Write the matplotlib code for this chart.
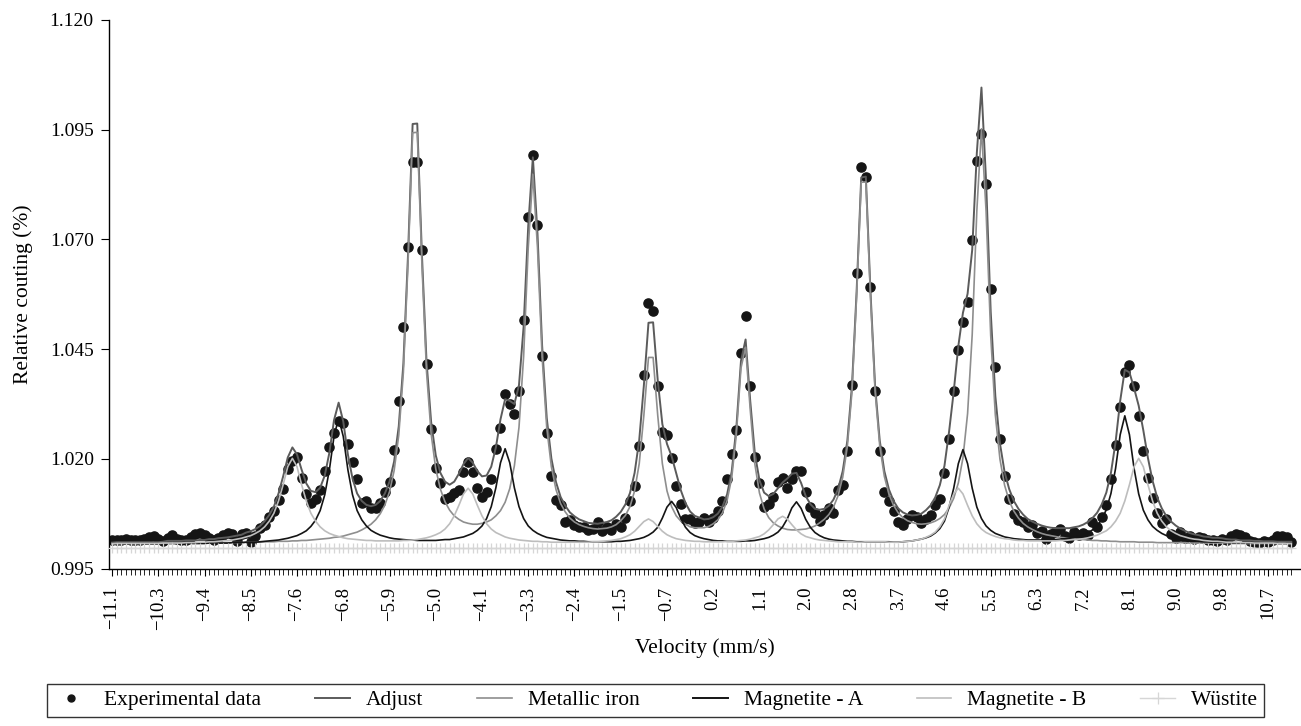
import numpy as np
import matplotlib
matplotlib.use("Agg")
import matplotlib.pyplot as plt
from matplotlib.lines import Line2D

plt.rcParams['font.family'] = ['Liberation Serif', 'DejaVu Serif']

# ---------------- data ----------------
velocity_labels = ["\u221211.1", "\u221210.3", "\u22129.4", "\u22128.5", "\u22127.6", "\u22126.8",
                   "\u22125.9", "\u22125.0", "\u22124.1", "\u22123.3", "\u22122.4", "\u22121.5",
                   "\u22120.7", "0.2", "1.1", "2.0", "2.8", "3.7", "4.6", "5.5", "6.3", "7.2",
                   "8.1", "9.0", "9.8", "10.7"]
y_ticks = [0.995, 1.020, 1.045, 1.070, 1.095, 1.120]

experimental = [
    1.0015, 1.0016, 1.0014, 1.0017, 1.0015, 1.0016, 1.0014, 1.0018, 1.0022, 1.0024, 1.0018, 1.0012, 1.0020, 1.0026, 1.0017, 1.0014,
    1.0016, 1.0022, 1.0028, 1.0030, 1.0027, 1.0019, 1.0014, 1.0019, 1.0027, 1.0031, 1.0029, 1.0012, 1.0029, 1.0030, 1.0011, 1.0023,
    1.0042, 1.0049, 1.0067, 1.0080, 1.0106, 1.0131, 1.0177, 1.0196, 1.0204, 1.0156, 1.0120, 1.0099, 1.0108, 1.0129, 1.0173, 1.0228,
    1.0259, 1.0287, 1.0282, 1.0234, 1.0192, 1.0154, 1.0100, 1.0103, 1.0087, 1.0088, 1.0099, 1.0125, 1.0148, 1.0219, 1.0331, 1.0501,
    1.0683, 1.0876, 1.0876, 1.0676, 1.0417, 1.0267, 1.0179, 1.0146, 1.0108, 1.0114, 1.0123, 1.0129, 1.0171, 1.0192, 1.0171, 1.0133,
    1.0114, 1.0125, 1.0154, 1.0222, 1.0271, 1.0348, 1.0326, 1.0303, 1.0355, 1.0516, 1.0752, 1.0892, 1.0732, 1.0435, 1.0259, 1.0160,
    1.0106, 1.0095, 1.0055, 1.0061, 1.0049, 1.0044, 1.0044, 1.0038, 1.0039, 1.0057, 1.0036, 1.0044, 1.0038, 1.0051, 1.0045, 1.0066,
    1.0103, 1.0138, 1.0230, 1.0390, 1.0556, 1.0536, 1.0367, 1.0262, 1.0255, 1.0202, 1.0138, 1.0097, 1.0062, 1.0062, 1.0053, 1.0057,
    1.0065, 1.0055, 1.0066, 1.0080, 1.0104, 1.0154, 1.0210, 1.0266, 1.0440, 1.0526, 1.0367, 1.0205, 1.0146, 1.0091, 1.0097, 1.0114,
    1.0148, 1.0156, 1.0133, 1.0154, 1.0173, 1.0173, 1.0124, 1.0090, 1.0077, 1.0059, 1.0072, 1.0087, 1.0076, 1.0128, 1.0141, 1.0217,
    1.0369, 1.0624, 1.0865, 1.0843, 1.0591, 1.0354, 1.0217, 1.0125, 1.0103, 1.0080, 1.0057, 1.0049, 1.0062, 1.0072, 1.0068, 1.0053,
    1.0064, 1.0072, 1.0095, 1.0108, 1.0167, 1.0245, 1.0354, 1.0449, 1.0512, 1.0558, 1.0698, 1.0879, 1.0940, 1.0826, 1.0588, 1.0409,
    1.0245, 1.0161, 1.0108, 1.0074, 1.0061, 1.0055, 1.0045, 1.0049, 1.0030, 1.0036, 1.0017, 1.0028, 1.0034, 1.0039, 1.0023, 1.0019,
    1.0034, 1.0026, 1.0030, 1.0026, 1.0055, 1.0045, 1.0068, 1.0095, 1.0154, 1.0232, 1.0318, 1.0398, 1.0413, 1.0365, 1.0297, 1.0218,
    1.0156, 1.0110, 1.0076, 1.0053, 1.0062, 1.0028, 1.0019, 1.0034, 1.0019, 1.0024, 1.0017, 1.0022, 1.0019, 1.0015, 1.0016, 1.0013,
    1.0017, 1.0014, 1.0024, 1.0028, 1.0026, 1.0022, 1.0012, 1.0011, 1.0009, 1.0013, 1.0010, 1.0016, 1.0023, 1.0024, 1.0021, 1.0011,
]

adjust = [
    1.0009, 1.0010, 1.0010, 1.0010, 1.0010, 1.0010, 1.0010, 1.0010, 1.0010, 1.0010, 1.0010, 1.0011, 1.0013, 1.0013, 1.0013, 1.0013,
    1.0014, 1.0014, 1.0014, 1.0015, 1.0015, 1.0017, 1.0017, 1.0019, 1.0020, 1.0021, 1.0023, 1.0025, 1.0027, 1.0032, 1.0035, 1.0040,
    1.0047, 1.0058, 1.0072, 1.0091, 1.0121, 1.0160, 1.0203, 1.0226, 1.0210, 1.0175, 1.0144, 1.0127, 1.0124, 1.0134, 1.0162, 1.0214,
    1.0288, 1.0328, 1.0285, 1.0210, 1.0155, 1.0121, 1.0104, 1.0095, 1.0092, 1.0095, 1.0104, 1.0121, 1.0148, 1.0194, 1.0274, 1.0417,
    1.0664, 1.0963, 1.0964, 1.0668, 1.0423, 1.0284, 1.0208, 1.0168, 1.0148, 1.0141, 1.0148, 1.0166, 1.0188, 1.0202, 1.0191, 1.0172,
    1.0160, 1.0162, 1.0182, 1.0226, 1.0290, 1.0336, 1.0332, 1.0325, 1.0368, 1.0501, 1.0731, 1.0887, 1.0713, 1.0458, 1.0293, 1.0201,
    1.0147, 1.0113, 1.0093, 1.0078, 1.0069, 1.0062, 1.0058, 1.0054, 1.0053, 1.0052, 1.0054, 1.0056, 1.0060, 1.0068, 1.0079, 1.0096,
    1.0122, 1.0168, 1.0243, 1.0367, 1.0510, 1.0511, 1.0379, 1.0279, 1.0234, 1.0206, 1.0167, 1.0128, 1.0099, 1.0080, 1.0070, 1.0066,
    1.0062, 1.0063, 1.0067, 1.0075, 1.0091, 1.0119, 1.0171, 1.0271, 1.0423, 1.0472, 1.0332, 1.0212, 1.0151, 1.0123, 1.0115, 1.0120,
    1.0133, 1.0146, 1.0155, 1.0166, 1.0168, 1.0145, 1.0115, 1.0097, 1.0086, 1.0084, 1.0086, 1.0093, 1.0107, 1.0131, 1.0172, 1.0241,
    1.0366, 1.0580, 1.0841, 1.0843, 1.0582, 1.0366, 1.0242, 1.0172, 1.0130, 1.0104, 1.0087, 1.0078, 1.0073, 1.0071, 1.0072, 1.0075,
    1.0083, 1.0094, 1.0112, 1.0140, 1.0184, 1.0262, 1.0353, 1.0457, 1.0533, 1.0576, 1.0676, 1.0897, 1.1046, 1.0833, 1.0535, 1.0343,
    1.0235, 1.0170, 1.0131, 1.0104, 1.0086, 1.0073, 1.0063, 1.0057, 1.0052, 1.0048, 1.0045, 1.0043, 1.0042, 1.0042, 1.0042, 1.0042,
    1.0044, 1.0046, 1.0050, 1.0056, 1.0065, 1.0077, 1.0096, 1.0123, 1.0168, 1.0238, 1.0332, 1.0403, 1.0397, 1.0361, 1.0321, 1.0265,
    1.0202, 1.0150, 1.0112, 1.0087, 1.0069, 1.0057, 1.0048, 1.0041, 1.0036, 1.0031, 1.0028, 1.0026, 1.0023, 1.0022, 1.0020, 1.0020,
    1.0019, 1.0017, 1.0016, 1.0016, 1.0014, 1.0014, 1.0014, 1.0013, 1.0013, 1.0012, 1.0012, 1.0012, 1.0011, 1.0011, 1.0011, 1.0011,
]

metallic_iron = [
    1.0007, 1.0007, 1.0007, 1.0007, 1.0007, 1.0007, 1.0007, 1.0007, 1.0007, 1.0007, 1.0007, 1.0007, 1.0008, 1.0008, 1.0008, 1.0008,
    1.0008, 1.0008, 1.0008, 1.0008, 1.0008, 1.0008, 1.0008, 1.0009, 1.0009, 1.0009, 1.0009, 1.0009, 1.0009, 1.0010, 1.0010, 1.0010,
    1.0010, 1.0011, 1.0011, 1.0011, 1.0012, 1.0012, 1.0012, 1.0013, 1.0013, 1.0014, 1.0014, 1.0015, 1.0016, 1.0017, 1.0018, 1.0019,
    1.0021, 1.0022, 1.0024, 1.0027, 1.0030, 1.0033, 1.0038, 1.0044, 1.0051, 1.0061, 1.0075, 1.0095, 1.0125, 1.0173, 1.0254, 1.0397,
    1.0645, 1.0943, 1.0944, 1.0646, 1.0399, 1.0257, 1.0177, 1.0131, 1.0102, 1.0083, 1.0070, 1.0062, 1.0056, 1.0053, 1.0051, 1.0051,
    1.0053, 1.0056, 1.0061, 1.0070, 1.0082, 1.0101, 1.0132, 1.0184, 1.0272, 1.0433, 1.0681, 1.0848, 1.0681, 1.0432, 1.0271, 1.0182,
    1.0130, 1.0098, 1.0079, 1.0065, 1.0056, 1.0050, 1.0046, 1.0043, 1.0041, 1.0040, 1.0041, 1.0042, 1.0045, 1.0050, 1.0059, 1.0071,
    1.0091, 1.0127, 1.0189, 1.0299, 1.0431, 1.0431, 1.0299, 1.0189, 1.0127, 1.0091, 1.0070, 1.0058, 1.0051, 1.0045, 1.0043, 1.0043,
    1.0043, 1.0046, 1.0052, 1.0061, 1.0077, 1.0105, 1.0157, 1.0256, 1.0407, 1.0454, 1.0312, 1.0188, 1.0122, 1.0086, 1.0066, 1.0054,
    1.0047, 1.0042, 1.0039, 1.0038, 1.0038, 1.0039, 1.0040, 1.0043, 1.0047, 1.0054, 1.0062, 1.0073, 1.0090, 1.0116, 1.0158, 1.0228,
    1.0353, 1.0569, 1.0830, 1.0831, 1.0570, 1.0354, 1.0230, 1.0160, 1.0119, 1.0094, 1.0077, 1.0066, 1.0059, 1.0055, 1.0052, 1.0051,
    1.0052, 1.0054, 1.0058, 1.0064, 1.0073, 1.0088, 1.0110, 1.0145, 1.0202, 1.0303, 1.0483, 1.0765, 1.0952, 1.0764, 1.0481, 1.0300,
    1.0199, 1.0140, 1.0104, 1.0081, 1.0065, 1.0053, 1.0045, 1.0039, 1.0034, 1.0030, 1.0027, 1.0025, 1.0023, 1.0021, 1.0020, 1.0018,
    1.0017, 1.0016, 1.0016, 1.0015, 1.0014, 1.0014, 1.0013, 1.0013, 1.0012, 1.0012, 1.0011, 1.0011, 1.0011, 1.0011, 1.0010, 1.0010,
    1.0010, 1.0010, 1.0009, 1.0009, 1.0009, 1.0009, 1.0009, 1.0009, 1.0009, 1.0008, 1.0008, 1.0008, 1.0008, 1.0008, 1.0008, 1.0008,
    1.0008, 1.0008, 1.0007, 1.0007, 1.0007, 1.0007, 1.0007, 1.0007, 1.0007, 1.0007, 1.0007, 1.0007, 1.0007, 1.0007, 1.0007, 1.0007,
]

magnetite_a = [
    1.0006, 1.0006, 1.0006, 1.0006, 1.0006, 1.0006, 1.0006, 1.0006, 1.0006, 1.0006, 1.0006, 1.0006, 1.0007, 1.0007, 1.0007, 1.0007,
    1.0007, 1.0007, 1.0007, 1.0007, 1.0007, 1.0008, 1.0008, 1.0008, 1.0008, 1.0008, 1.0009, 1.0009, 1.0009, 1.0010, 1.0010, 1.0010,
    1.0011, 1.0012, 1.0013, 1.0014, 1.0015, 1.0017, 1.0019, 1.0022, 1.0025, 1.0030, 1.0036, 1.0046, 1.0060, 1.0082, 1.0118, 1.0175,
    1.0251, 1.0293, 1.0251, 1.0175, 1.0118, 1.0082, 1.0061, 1.0047, 1.0037, 1.0031, 1.0026, 1.0023, 1.0020, 1.0018, 1.0017, 1.0016,
    1.0015, 1.0015, 1.0014, 1.0014, 1.0014, 1.0014, 1.0014, 1.0015, 1.0016, 1.0016, 1.0018, 1.0020, 1.0022, 1.0026, 1.0030, 1.0037,
    1.0047, 1.0064, 1.0091, 1.0134, 1.0191, 1.0223, 1.0191, 1.0134, 1.0091, 1.0064, 1.0047, 1.0037, 1.0030, 1.0025, 1.0021, 1.0019,
    1.0017, 1.0015, 1.0014, 1.0013, 1.0013, 1.0012, 1.0012, 1.0011, 1.0011, 1.0011, 1.0011, 1.0011, 1.0011, 1.0012, 1.0012, 1.0013,
    1.0014, 1.0016, 1.0018, 1.0021, 1.0026, 1.0033, 1.0044, 1.0065, 1.0090, 1.0103, 1.0089, 1.0064, 1.0044, 1.0032, 1.0025, 1.0021,
    1.0018, 1.0016, 1.0014, 1.0013, 1.0013, 1.0012, 1.0012, 1.0012, 1.0012, 1.0013, 1.0013, 1.0014, 1.0016, 1.0018, 1.0021, 1.0026,
    1.0033, 1.0045, 1.0063, 1.0088, 1.0102, 1.0087, 1.0062, 1.0044, 1.0032, 1.0025, 1.0020, 1.0017, 1.0015, 1.0014, 1.0013, 1.0012,
    1.0012, 1.0011, 1.0011, 1.0011, 1.0011, 1.0011, 1.0011, 1.0011, 1.0011, 1.0010, 1.0010, 1.0011, 1.0012, 1.0013, 1.0015, 1.0017,
    1.0020, 1.0024, 1.0031, 1.0041, 1.0058, 1.0090, 1.0133, 1.0189, 1.0221, 1.0189, 1.0133, 1.0090, 1.0064, 1.0047, 1.0037, 1.0030,
    1.0026, 1.0022, 1.0020, 1.0018, 1.0017, 1.0016, 1.0015, 1.0015, 1.0015, 1.0015, 1.0015, 1.0015, 1.0016, 1.0017, 1.0018, 1.0019,
    1.0021, 1.0023, 1.0026, 1.0031, 1.0038, 1.0047, 1.0062, 1.0084, 1.0121, 1.0178, 1.0255, 1.0298, 1.0255, 1.0178, 1.0120, 1.0083,
    1.0061, 1.0046, 1.0037, 1.0030, 1.0025, 1.0022, 1.0019, 1.0017, 1.0015, 1.0014, 1.0013, 1.0012, 1.0011, 1.0011, 1.0010, 1.0010,
    1.0010, 1.0009, 1.0009, 1.0009, 1.0008, 1.0008, 1.0008, 1.0008, 1.0008, 1.0007, 1.0007, 1.0007, 1.0007, 1.0007, 1.0007, 1.0007,
]

magnetite_b = [
    1.0006, 1.0007, 1.0007, 1.0007, 1.0007, 1.0007, 1.0007, 1.0007, 1.0007, 1.0007, 1.0007, 1.0008, 1.0008, 1.0008, 1.0008, 1.0008,
    1.0009, 1.0009, 1.0009, 1.0010, 1.0010, 1.0011, 1.0011, 1.0012, 1.0013, 1.0014, 1.0015, 1.0017, 1.0019, 1.0022, 1.0025, 1.0030,
    1.0036, 1.0045, 1.0058, 1.0076, 1.0104, 1.0141, 1.0182, 1.0201, 1.0182, 1.0141, 1.0104, 1.0076, 1.0058, 1.0045, 1.0036, 1.0030,
    1.0026, 1.0023, 1.0020, 1.0018, 1.0017, 1.0016, 1.0015, 1.0014, 1.0014, 1.0013, 1.0013, 1.0013, 1.0013, 1.0013, 1.0013, 1.0014,
    1.0014, 1.0015, 1.0016, 1.0018, 1.0020, 1.0023, 1.0027, 1.0032, 1.0040, 1.0052, 1.0070, 1.0094, 1.0120, 1.0133, 1.0120, 1.0094,
    1.0070, 1.0052, 1.0040, 1.0032, 1.0027, 1.0022, 1.0019, 1.0017, 1.0015, 1.0014, 1.0013, 1.0012, 1.0012, 1.0011, 1.0011, 1.0010,
    1.0010, 1.0010, 1.0010, 1.0010, 1.0010, 1.0010, 1.0010, 1.0010, 1.0011, 1.0011, 1.0012, 1.0013, 1.0014, 1.0016, 1.0018, 1.0022,
    1.0027, 1.0035, 1.0046, 1.0057, 1.0063, 1.0057, 1.0046, 1.0035, 1.0027, 1.0022, 1.0018, 1.0016, 1.0014, 1.0013, 1.0012, 1.0012,
    1.0011, 1.0011, 1.0011, 1.0011, 1.0011, 1.0012, 1.0012, 1.0013, 1.0014, 1.0015, 1.0017, 1.0020, 1.0023, 1.0029, 1.0038, 1.0050,
    1.0063, 1.0069, 1.0063, 1.0050, 1.0038, 1.0029, 1.0023, 1.0020, 1.0017, 1.0015, 1.0014, 1.0013, 1.0012, 1.0011, 1.0011, 1.0011,
    1.0011, 1.0010, 1.0010, 1.0011, 1.0011, 1.0011, 1.0011, 1.0011, 1.0010, 1.0010, 1.0010, 1.0011, 1.0012, 1.0013, 1.0015, 1.0017,
    1.0021, 1.0026, 1.0033, 1.0045, 1.0063, 1.0094, 1.0120, 1.0133, 1.0120, 1.0094, 1.0070, 1.0052, 1.0040, 1.0032, 1.0027, 1.0023,
    1.0020, 1.0018, 1.0017, 1.0015, 1.0014, 1.0014, 1.0013, 1.0013, 1.0013, 1.0013, 1.0013, 1.0013, 1.0013, 1.0014, 1.0014, 1.0015,
    1.0016, 1.0017, 1.0018, 1.0020, 1.0023, 1.0026, 1.0031, 1.0036, 1.0045, 1.0058, 1.0076, 1.0104, 1.0141, 1.0182, 1.0201, 1.0182,
    1.0141, 1.0104, 1.0076, 1.0058, 1.0045, 1.0036, 1.0030, 1.0025, 1.0022, 1.0019, 1.0017, 1.0016, 1.0014, 1.0013, 1.0012, 1.0012,
    1.0011, 1.0010, 1.0010, 1.0010, 1.0009, 1.0009, 1.0009, 1.0008, 1.0008, 1.0008, 1.0008, 1.0008, 1.0007, 1.0007, 1.0007, 1.0007,
]

wustite = [
    0.9997, 0.9997, 0.9997, 0.9997, 0.9997, 0.9997, 0.9997, 0.9997, 0.9997, 0.9997, 0.9997, 0.9997, 0.9997, 0.9997, 0.9997, 0.9997,
    0.9997, 0.9997, 0.9997, 0.9997, 0.9997, 0.9997, 0.9997, 0.9997, 0.9997, 0.9997, 0.9997, 0.9997, 0.9997, 0.9997, 0.9997, 0.9997,
    0.9997, 0.9997, 0.9997, 0.9997, 0.9997, 0.9997, 0.9997, 0.9997, 0.9997, 0.9997, 0.9997, 0.9997, 0.9997, 0.9997, 0.9997, 0.9997,
    0.9997, 0.9997, 0.9997, 0.9997, 0.9997, 0.9997, 0.9997, 0.9997, 0.9997, 0.9997, 0.9997, 0.9997, 0.9997, 0.9997, 0.9997, 0.9997,
    0.9997, 0.9997, 0.9997, 0.9997, 0.9997, 0.9997, 0.9997, 0.9997, 0.9997, 0.9997, 0.9997, 0.9997, 0.9997, 0.9997, 0.9997, 0.9997,
    0.9997, 0.9997, 0.9997, 0.9997, 0.9997, 0.9997, 0.9997, 0.9997, 0.9997, 0.9997, 0.9997, 0.9997, 0.9997, 0.9997, 0.9997, 0.9997,
    0.9997, 0.9997, 0.9997, 0.9997, 0.9997, 0.9997, 0.9997, 0.9997, 0.9997, 0.9997, 0.9997, 0.9997, 0.9997, 0.9997, 0.9997, 0.9997,
    0.9997, 0.9997, 0.9997, 0.9997, 0.9997, 0.9997, 0.9997, 0.9997, 0.9997, 0.9997, 0.9997, 0.9997, 0.9997, 0.9997, 0.9997, 0.9997,
    0.9997, 0.9997, 0.9997, 0.9997, 0.9997, 0.9997, 0.9997, 0.9997, 0.9997, 0.9997, 0.9997, 0.9997, 0.9997, 0.9997, 0.9997, 0.9997,
    0.9997, 0.9997, 0.9997, 0.9997, 0.9997, 0.9997, 0.9997, 0.9997, 0.9997, 0.9997, 0.9997, 0.9997, 0.9997, 0.9997, 0.9997, 0.9997,
    0.9997, 0.9997, 0.9997, 0.9997, 0.9997, 0.9997, 0.9997, 0.9997, 0.9997, 0.9997, 0.9997, 0.9997, 0.9997, 0.9997, 0.9997, 0.9997,
    0.9997, 0.9997, 0.9997, 0.9997, 0.9997, 0.9997, 0.9997, 0.9997, 0.9997, 0.9997, 0.9997, 0.9997, 0.9997, 0.9997, 0.9997, 0.9997,
    0.9997, 0.9997, 0.9997, 0.9997, 0.9997, 0.9997, 0.9997, 0.9997, 0.9997, 0.9997, 0.9997, 0.9997, 0.9997, 0.9997, 0.9997, 0.9997,
    0.9997, 0.9997, 0.9997, 0.9997, 0.9997, 0.9997, 0.9997, 0.9997, 0.9997, 0.9997, 0.9997, 0.9997, 0.9997, 0.9997, 0.9997, 0.9997,
    0.9997, 0.9997, 0.9997, 0.9997, 0.9997, 0.9997, 0.9997, 0.9997, 0.9997, 0.9997, 0.9997, 0.9997, 0.9997, 0.9997, 0.9997, 0.9997,
    0.9997, 0.9997, 0.9997, 0.9997, 0.9997, 0.9997, 0.9997, 0.9997, 0.9997, 0.9997, 0.9997, 0.9997, 0.9997, 0.9997, 0.9997, 0.9997,
]

series_names = ["Experimental data", "Adjust", "Metallic iron", "Magnetite - A", "Magnetite - B", "W\u00fcstite"]

# ---------------- figure ----------------
channel = np.arange(len(experimental))

fig = plt.figure(figsize=(13.01, 7.26), dpi=100)
ax = fig.add_axes([0.0838, 0.2169, 0.9155, 0.7556])

c_exp, c_adj, c_fe, c_ma, c_mb, c_wu = "#151515", "#5b5b5b", "#8e8e8e", "#141414", "#bdbdbd", "#d6d6d6"

ax.plot(channel, experimental, linestyle="none", marker="o", ms=6.6, color=c_exp, zorder=2)
ax.plot(channel, adjust, color=c_adj, lw=1.4, zorder=3)
ax.plot(channel, metallic_iron, color=c_fe, lw=1.2, zorder=4)
ax.plot(channel, magnetite_a, color=c_ma, lw=1.2, zorder=5)
ax.plot(channel, magnetite_b, color=c_mb, lw=1.2, zorder=6)
ax.plot(channel, wustite, color=c_wu, lw=1.0, marker="+", ms=7, mew=0.9, zorder=7)

ax.set_xlim(-0.65, 256.9)
ax.set_ylim(0.995, 1.120)

ax.set_xticks(np.arange(0, 10 * len(velocity_labels), 10))
ax.set_xticklabels(velocity_labels, rotation=90)
ax.set_xticks(channel, minor=True)
ax.set_yticks(y_ticks)
ax.set_yticklabels([f"{v:.3f}" for v in y_ticks])

ax.tick_params(axis="x", which="major", direction="out", length=5, width=0.8, pad=8, labelsize=13.5)
ax.tick_params(axis="x", which="minor", direction="out", length=4, width=0.6)
ax.tick_params(axis="y", which="major", direction="out", length=6, width=0.8, pad=5, labelsize=14)

for s in ["top", "right"]:
    ax.spines[s].set_visible(False)
for s in ["left", "bottom"]:
    ax.spines[s].set_linewidth(1.0)
    ax.spines[s].set_color("black")

ax.set_xlabel("Velocity (mm/s)", fontsize=15.5)
ax.xaxis.set_label_coords(0.5, -0.128)
ax.set_ylabel("Relative couting (%)", fontsize=15.5)
ax.yaxis.set_label_coords(-0.064, 0.5)

handles = [
    Line2D([], [], linestyle="none", marker="o", ms=5, color=c_exp),
    Line2D([], [], color=c_adj, lw=1.4),
    Line2D([], [], color=c_fe, lw=1.2),
    Line2D([], [], color=c_ma, lw=1.4),
    Line2D([], [], color=c_mb, lw=1.2),
    Line2D([], [], color=c_wu, lw=1.0, marker="+", ms=9, mew=0.9),
]
leg = fig.legend(handles, series_names, loc="center", ncol=6, numpoints=1,
                 bbox_to_anchor=(0.5042, 0.0358),
                 frameon=True, fancybox=False, edgecolor="black", fontsize=15.5,
                 handlelength=1.6, handletextpad=0.75, columnspacing=2.5, borderpad=0.3)
leg.get_frame().set_linewidth(1.0)

fig.savefig("out.png", dpi=100)
